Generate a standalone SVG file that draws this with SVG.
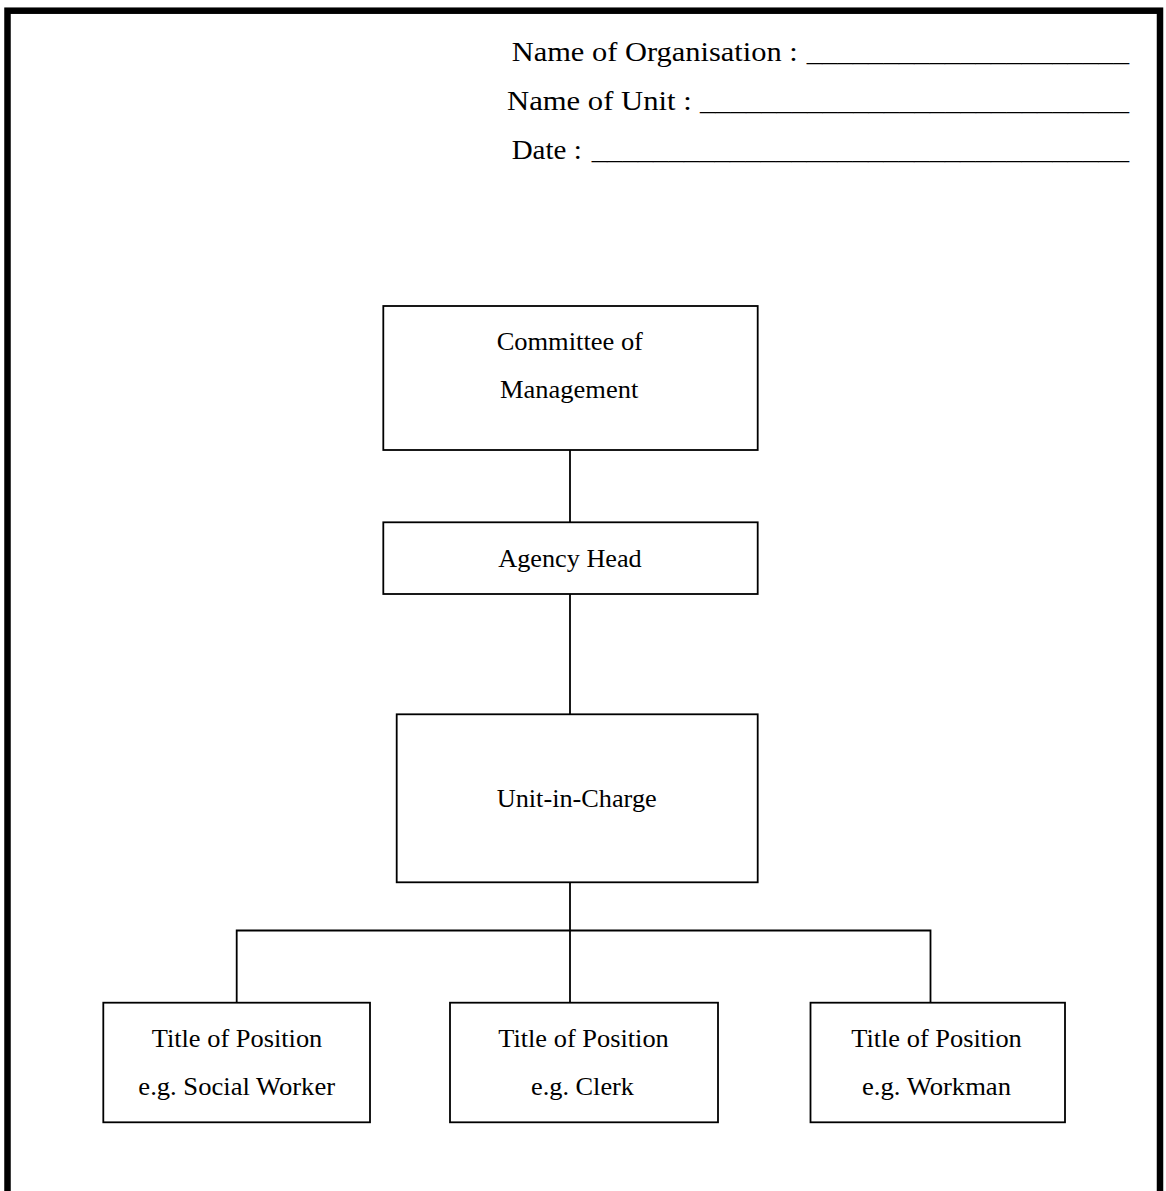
<svg xmlns="http://www.w3.org/2000/svg" width="1166" height="1191" viewBox="0 0 1166 1191">
<style>
  text { font-family: "Liberation Serif", "Times New Roman", serif; fill: #000; }
  .hdr { font-size: 27.5px; }
  .lbl { font-size: 26px; text-anchor: middle; }
  .box { fill: #fff; stroke: #000; stroke-width: 1.8; }
  .conn { fill: none; stroke: #000; stroke-width: 1.8; }
</style>
<rect x="0" y="0" width="1166" height="1191" fill="#fff"/>
<rect id="frame" x="7.5" y="10.7" width="1152.5" height="1200" fill="none" stroke="#000" stroke-width="6.5"/>

<g id="header">
  <text class="hdr" x="511.7" y="60.7" textLength="286" lengthAdjust="spacingAndGlyphs">Name of Organisation :</text>
  <text class="hdr" x="806.7" y="60.7" textLength="322.3" lengthAdjust="spacingAndGlyphs">_____________________</text>
  <text class="hdr" x="507" y="110" textLength="184.7" lengthAdjust="spacingAndGlyphs">Name of Unit :</text>
  <text class="hdr" x="700" y="110" textLength="429" lengthAdjust="spacingAndGlyphs">____________________________</text>
  <text class="hdr" x="511.7" y="159" textLength="70" lengthAdjust="spacingAndGlyphs">Date :</text>
  <text class="hdr" x="591.7" y="159" textLength="537.3" lengthAdjust="spacingAndGlyphs">___________________________________</text>
</g>

<g id="connectors">
  <line class="conn" x1="570" y1="450" x2="570" y2="522.3"/>
  <line class="conn" x1="570" y1="594" x2="570" y2="714.3"/>
  <line class="conn" x1="570" y1="882.3" x2="570" y2="1002.7"/>
  <polyline class="conn" points="236.7,1002.7 236.7,930.5 930.5,930.5 930.5,1002.7"/>
</g>

<g id="committee">
  <rect class="box" x="383.3" y="306" width="374.4" height="144"/>
  <text class="lbl" x="569.8" y="350" textLength="146.3" lengthAdjust="spacingAndGlyphs">Committee of</text>
  <text class="lbl" x="569.2" y="397.7" textLength="138.3" lengthAdjust="spacingAndGlyphs">Management</text>
</g>

<g id="agency-head">
  <rect class="box" x="383.3" y="522.3" width="374.4" height="71.7"/>
  <text class="lbl" x="570" y="567.3" textLength="143.4" lengthAdjust="spacingAndGlyphs">Agency Head</text>
</g>

<g id="unit-in-charge">
  <rect class="box" x="396.7" y="714.3" width="361" height="168"/>
  <text class="lbl" x="576.7" y="807.3" textLength="160" lengthAdjust="spacingAndGlyphs">Unit-in-Charge</text>
</g>

<g id="position-1">
  <rect class="box" x="103.3" y="1002.7" width="266.7" height="119.6"/>
  <text class="lbl" x="237" y="1046.7" textLength="170.6" lengthAdjust="spacingAndGlyphs">Title of Position</text>
  <text class="lbl" x="236.7" y="1095" textLength="196.7" lengthAdjust="spacingAndGlyphs">e.g. Social Worker</text>
</g>

<g id="position-2">
  <rect class="box" x="450" y="1002.7" width="268" height="119.6"/>
  <text class="lbl" x="583.5" y="1046.7" textLength="170.6" lengthAdjust="spacingAndGlyphs">Title of Position</text>
  <text class="lbl" x="582.5" y="1095" textLength="103" lengthAdjust="spacingAndGlyphs">e.g. Clerk</text>
</g>

<g id="position-3">
  <rect class="box" x="810.5" y="1002.7" width="254.5" height="119.6"/>
  <text class="lbl" x="936.5" y="1046.7" textLength="170.6" lengthAdjust="spacingAndGlyphs">Title of Position</text>
  <text class="lbl" x="936.5" y="1095" textLength="149" lengthAdjust="spacingAndGlyphs">e.g. Workman</text>
</g>
</svg>
